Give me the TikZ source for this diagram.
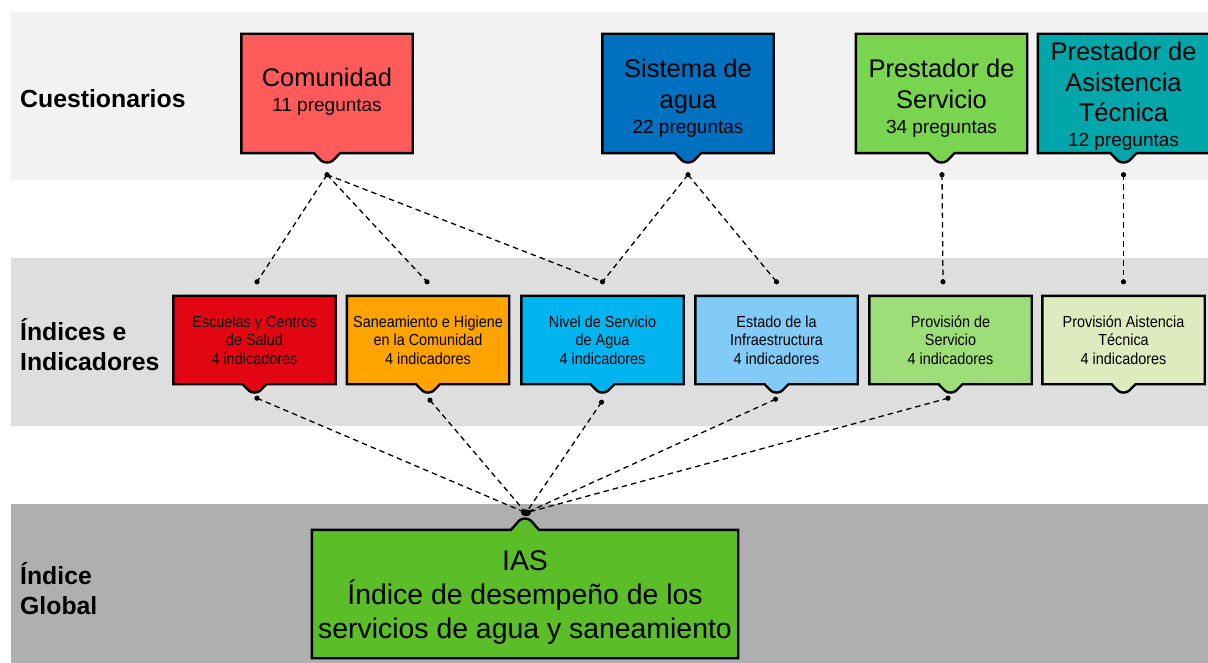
\documentclass[tikz,border=0pt]{standalone}
\usepackage{fontspec}
\setmainfont{Liberation Sans}
\newfontfamily\condfont{Liberation Sans}[FakeStretch=0.9]
\usetikzlibrary{calc}
\pgfdeclarelayer{bands}
\pgfdeclarelayer{bg}
\pgfsetlayers{bands,bg,main}

\definecolor{bandA}{HTML}{F2F2F2}
\definecolor{bandB}{HTML}{DEDEDE}
\definecolor{bandC}{HTML}{AFAFAF}
\definecolor{cCom}{HTML}{FF5B5B}
\definecolor{cSis}{HTML}{0070C0}
\definecolor{cPS}{HTML}{79D550}
\definecolor{cPAT}{HTML}{00A6AA}
\definecolor{cEsc}{HTML}{E20613}
\definecolor{cSan}{HTML}{FFA300}
\definecolor{cNiv}{HTML}{00B5EF}
\definecolor{cEst}{HTML}{82CBF7}
\definecolor{cPrS}{HTML}{9EDE78}
\definecolor{cPrA}{HTML}{DDEBBF}
\definecolor{cIAS}{HTML}{5BBD28}

\tikzset{
  topbox/.style={inner sep=0pt, minimum width=171pt, minimum height=119pt},
  midbox/.style={inner sep=0pt, minimum width=162pt, minimum height=88pt},
  boxline/.style={draw=black, line width=2.4pt, line join=miter},
  toptext/.style={align=center, inner sep=0pt, font=\fontsize{25.5}{30.5}\selectfont},
  midtext/.style={align=center, inner sep=0pt, font=\condfont\fontsize{16}{18.5}\selectfont},
  sidelabel/.style={anchor=west, align=left, inner sep=0pt, font=\bfseries\fontsize{24.8}{30}\selectfont},
  conn/.style={draw=black, line width=1.3pt, dash pattern=on 5.5pt off 4pt},
  dotmark/.style={fill=black},
}

\newcommand\smalltop[1]{\\[-5.5pt]{\fontsize{19}{22}\selectfont #1}}
% box with a tab pointing down: #1 node, #2 fill, #3 half base, #4 depth
\newcommand\tabdown[4]{%
  \begin{pgfonlayer}{bg}
  \draw[boxline, fill=#2] (#1.north west) -- (#1.north east) -- (#1.south east)
    -- ([xshift=#3pt]#1.south)
    -- ([xshift=0.45*#3pt,yshift=-0.78*#4pt]#1.south)
    .. controls ([xshift=0.2*#3pt,yshift=-1.05*#4pt]#1.south) and ([xshift=-0.2*#3pt,yshift=-1.05*#4pt]#1.south)
    .. ([xshift=-0.45*#3pt,yshift=-0.78*#4pt]#1.south)
    -- ([xshift=-#3pt]#1.south) -- (#1.south west) -- cycle;
  \end{pgfonlayer}}

\begin{document}
\begin{tikzpicture}[x=1pt, y=-1pt]
\useasboundingbox (0,0) rectangle (1208,663);

% bands
\begin{pgfonlayer}{bands}
\fill[white] (0,0) rectangle (1208,663);
\fill[bandA] (11,12) rectangle (1208,180);
\fill[bandB] (11,258) rectangle (1208,426);
\fill[bandC] (11,504) rectangle (1208,663);
\end{pgfonlayer}

% side labels
\node[sidelabel] (lab1) at (20,99) {Cuestionarios};
\node[sidelabel] (lab2) at (20,345) {Índices e\\Indicadores};
\node[sidelabel] (lab3) at (20,589) {Índice\\Global};

% top boxes
\node[topbox] (com) at (327,93.5) {};
\node[topbox] (sis) at (688,93.5) {};
\node[topbox] (ps)  at (941.5,93.5) {};
\node[topbox] (pat) at (1123.5,93.5) {};
\tabdown{com}{cCom}{13}{9.5}
\tabdown{sis}{cSis}{13}{9.5}
\tabdown{ps}{cPS}{13}{9.5}
\tabdown{pat}{cPAT}{13}{9.5}
\node[toptext] (comt) at (327,92) {Comunidad\smalltop{11 preguntas}};
\node[toptext] (sist) at (688,98) {Sistema de\\agua\smalltop{22 preguntas}};
\node[toptext] (pst)  at (941.5,98) {Prestador de\\Servicio\smalltop{34 preguntas}};
\node[toptext] (patt) at (1123.5,96.5) {Prestador de\\Asistencia\\Técnica\smalltop{12 preguntas}};

% middle boxes
\node[midbox] (esc) at (254.5,340) {};
\node[midbox] (san) at (428,340) {};
\node[midbox] (niv) at (602.5,340) {};
\node[midbox] (est) at (776.5,340) {};
\node[midbox] (prs) at (950.5,340) {};
\node[midbox] (pra) at (1123.5,340) {};
\tabdown{esc}{cEsc}{12}{8.5}
\tabdown{san}{cSan}{12}{8.5}
\tabdown{niv}{cNiv}{12}{8.5}
\tabdown{est}{cEst}{12}{8.5}
\tabdown{prs}{cPrS}{12}{8.5}
\tabdown{pra}{cPrA}{12}{8.5}
\node[midtext] (esct) at (254.5,340) {Escuelas y Centros\\de Salud\\4 indicadores};
\node[midtext] (sant) at (428,340) {Saneamiento e Higiene\\en la Comunidad\\4 indicadores};
\node[midtext] (nivt) at (602.5,340) {Nivel de Servicio\\de Agua\\4 indicadores};
\node[midtext] (estt) at (776.5,340) {Estado de la\\Infraestructura\\4 indicadores};
\node[midtext] (prst) at (950.5,340) {Provisión de\\Servicio\\4 indicadores};
\node[midtext] (prat) at (1123.5,340) {Provisión Aistencia\\Técnica\\4 indicadores};

% IAS box, tab pointing up
\node[inner sep=0pt, minimum width=426pt, minimum height=128pt] (ias) at (525,594) {};
\begin{pgfonlayer}{bg}
\draw[boxline, fill=cIAS] (ias.south west) -- (ias.south east) -- (ias.north east)
  -- ([xshift=14pt]ias.north) -- ([xshift=6pt,yshift=9pt]ias.north)
  .. controls ([xshift=3pt,yshift=12pt]ias.north) and ([xshift=-3pt,yshift=12pt]ias.north)
  .. ([xshift=-6pt,yshift=9pt]ias.north)
  -- ([xshift=-14pt]ias.north) -- (ias.north west) -- cycle;
\end{pgfonlayer}
\node[align=center, inner sep=0pt, font=\fontsize{28.4}{34}\selectfont] (iast) at (525,598)
  {IAS\\Índice de desempeño de los\\servicios de agua y saneamiento};

% connector end points
\coordinate (cd1) at ($(com.south)+(0,21.5)$);
\coordinate (cd2) at ($(sis.south)+(0,21.5)$);
\coordinate (cd3) at ($(ps.south)+(0.5,21.5)$);
\coordinate (cd4) at ($(pat.south)+(0,21.5)$);
\coordinate (mt1) at ($(esc.north)+(2.5,-14)$);
\coordinate (mt2) at ($(san.north)+(-1,-14)$);
\coordinate (mt3) at ($(niv.north)+(0,-14)$);
\coordinate (mt4) at ($(est.north)+(0,-14)$);
\coordinate (mt5) at ($(prs.north)+(-7.5,-14)$);
\coordinate (mt6) at ($(pra.north)+(0,-14)$);
\coordinate (mb1) at ($(esc.south)+(2.5,14)$);
\coordinate (mb2) at ($(san.south)+(2,16)$);
\coordinate (mb3) at ($(niv.south)+(-1,18)$);
\coordinate (mb4) at ($(est.south)+(-1,15)$);
\coordinate (mb5) at ($(prs.south)+(-2.5,14)$);
\coordinate (iasd) at ($(ias.north)+(1,-17)$);

% connectors
\draw[conn] (cd1) -- (mt1);
\draw[conn] (cd1) -- (mt2);
\draw[conn] (cd1) -- (mt3);
\draw[conn] (cd2) -- (mt3);
\draw[conn] (cd2) -- (mt4);
\draw[conn] (cd3) -- (mt5);
\draw[conn] (cd4) -- (mt6);
\foreach \p in {mb1,mb2,mb3,mb4,mb5} \draw[conn] (\p) -- (iasd);

% dots
\foreach \p in {cd1,cd2,cd3,cd4,mt1,mt2,mt3,mt4,mt5,mt6,mb1,mb2,mb3,mb4,mb5}
  \fill[dotmark] (\p) circle (2.6pt);
\fill[dotmark] (iasd) ellipse (5pt and 3.5pt);
\end{tikzpicture}
\end{document}
